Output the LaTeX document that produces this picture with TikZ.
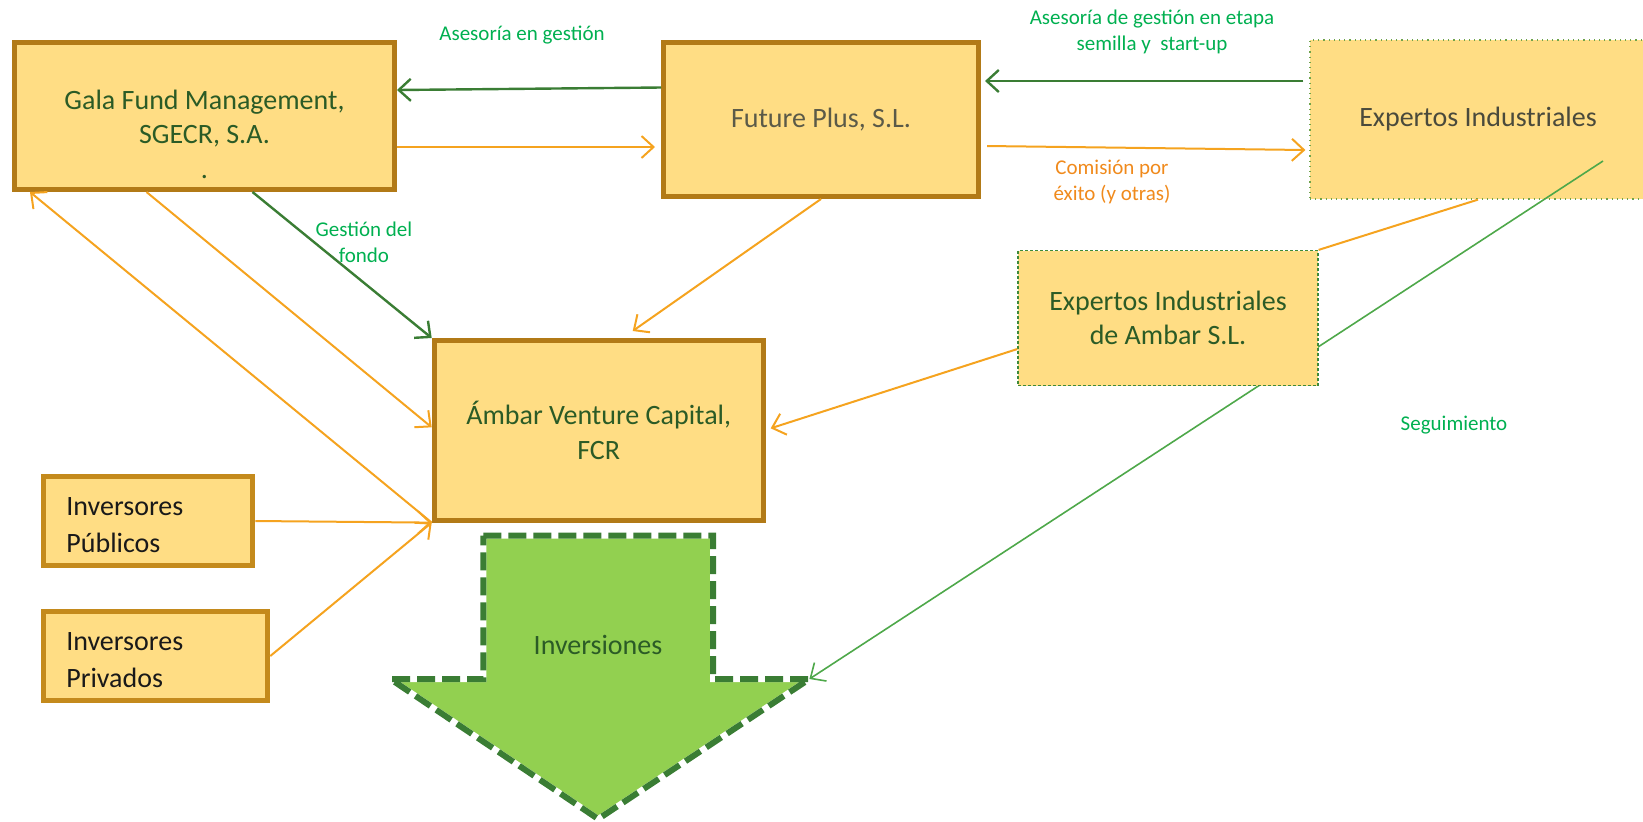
\documentclass[tikz,border=0pt]{standalone}
\usepackage{fontspec}
\setmainfont{Carlito}
\usetikzlibrary{arrows.meta}
\usetikzlibrary{positioning}

\definecolor{boxfill}{HTML}{FFDD84}
\definecolor{gold}{HTML}{B27A17}
\definecolor{invgold}{HTML}{C48A1C}
\definecolor{boxtext}{HTML}{2B5B26}
\definecolor{futtext}{HTML}{5B5A48}
\definecolor{exptext}{HTML}{4A4A3C}
\definecolor{dotgreen}{HTML}{6FA34A}
\definecolor{dashgreen}{HTML}{3E8A3A}
\definecolor{orangeline}{HTML}{F5A31F}
\definecolor{darkgreen}{HTML}{3A7D34}
\definecolor{segugreen}{HTML}{4EA84A}
\definecolor{lgreen}{HTML}{00B050}
\definecolor{lorange}{HTML}{F08A1C}
\definecolor{afill}{HTML}{92D050}

\begin{document}
\begin{tikzpicture}[x=0.5pt, y=-0.5pt, >={Straight Barb[length=6pt, width=11pt]}]
   \tikzstyle{bnode}=[rectangle, draw=gold, line width=2.5pt, fill=boxfill, text=boxtext, align=center, font=\fontsize{14}{17.3}\selectfont]
   \tikzstyle{inode}=[rectangle, draw=invgold, line width=2.5pt, fill=boxfill, text=black!90, align=left, inner xsep=11.25pt, minimum height=44.5pt, font=\fontsize{14}{18.5}\selectfont]
   \tikzstyle{enode}=[rectangle, draw=dashgreen, line width=0.6pt, fill=boxfill, text=boxtext, align=center, font=\fontsize{14}{17.3}\selectfont]
   \tikzstyle{lnode}=[align=center, inner sep=1pt, font=\fontsize{10.5}{13}\selectfont]
   \tikzstyle{oline}=[->, orangeline, line width=1pt]
   \tikzstyle{gline}=[->, darkgreen, line width=1.2pt]
   \tikzstyle{sline}=[->, segugreen, line width=0.8pt]

   \useasboundingbox (0, 0) rectangle (1643, 821);

   % inversiones arrow
   \draw[line width=3pt, draw=white, fill=afill] (483.4, 535.7) -- (713, 535.7) -- (713, 679) -- (809.4, 679) -- (598.2, 819) -- (390.4, 679) -- (483.4, 679) -- cycle;
   \draw[line width=3pt, draw=darkgreen, dash pattern=on 9pt off 3.5pt] (483.4, 535.7) -- (713, 535.7) -- (713, 679) -- (809.4, 679) -- (598.2, 819) -- (390.4, 679) -- (483.4, 679) -- cycle;
   \coordinate (shoulder) at (809.4, 679);
   \draw (598, 645) node[font=\fontsize{14}{17}\selectfont, text=boxtext] (inv) {Inversiones};

   % main boxes
   \draw (204.5, 116) node[bnode, minimum width=190pt, minimum height=73.5pt] (gala) {\rule{0pt}{28pt}Gala Fund Management,\\SGECR, S.A.\\.};
   \draw (821, 119.5) node[bnode, minimum width=157.5pt, minimum height=77pt, text=futtext] (future) {Future Plus, S.L.};
   \draw (1478, 119.5) node[enode, draw=dotgreen, dotted, minimum width=168pt, minimum height=79.5pt, text=exptext] (expertos) {Expertos Industriales};
   \draw (598.7, 430.3) node[bnode, minimum width=164.5pt, minimum height=89.8pt] (ambar) {Ámbar Venture Capital,\\FCR};
   % investors
   \draw (148.4, 521) node[inode, text width=82pt] (inpub) {\rule{0pt}{13pt}Inversores\\Públicos};
   \draw (155.8, 656) node[inode, text width=89.5pt] (inpriv) {\rule{0pt}{13pt}Inversores\\Privados};

   % follow-up line runs under the experts box
   \draw[sline] ([xshift=62.5pt, yshift=-20.75pt]expertos.center) -- (shoulder);
   \draw (1168, 318) node[enode, dash pattern=on 1.5pt off 1pt, minimum width=150pt, minimum height=67.5pt] (ambarsl) {Expertos Industriales\\de Ambar S.L.};

   % top row
   \draw[gline] ([yshift=16pt]future.west) -- ([yshift=13pt]gala.east);
   \draw[oline] ([yshift=-15.5pt]gala.east) -- ([xshift=-3pt, yshift=-13.75pt]future.west);
   \draw[gline] ([xshift=-3pt, yshift=19.25pt]expertos.west) -- ([xshift=2pt, yshift=19.25pt]future.east);
   \draw[oline] ([xshift=3pt, yshift=-13.25pt]future.east) -- ([xshift=-2pt, yshift=-15.25pt]expertos.west);
   % into the fund
   \draw[oline] (future.south) -- ([xshift=17pt, yshift=3.5pt]ambar.north);
   \draw[gline] ([xshift=24pt]gala.south) -- (ambar.north west);
   \draw[oline] ([xshift=-29pt]gala.south) -- ([yshift=1.5pt]ambar.west);
   \draw[oline] (ambar.south west) -- ([xshift=9pt]gala.south west);
   \draw[oline] (inpub.east) -- (ambar.south west);
   \draw[oline] (inpriv.east) -- (ambar.south west);
   \draw[oline] ([yshift=-15.5pt]ambarsl.west) -- ([xshift=2.5pt, yshift=1pt]ambar.east);
   \draw[oline, -] (expertos.south) -- (ambarsl.north east);

   % labels
   \draw (522, 35) node[lnode, text=lgreen] (lasesor) {Asesoría en gestión};
   \draw (1152, 32) node[lnode, text=lgreen] (lsemilla) {Asesoría de gestión en etapa\\semilla y\ \ start-up};
   \draw (1112, 182) node[lnode, text=lorange] (lcomision) {Comisión por\\éxito (y otras)};
   \draw (364, 242) node[lnode, text=lgreen] (lgestion) {Gestión del\\fondo};
   \draw (1454, 425) node[lnode, text=lgreen] (lseguim) {Seguimiento};
\end{tikzpicture}
\end{document}
